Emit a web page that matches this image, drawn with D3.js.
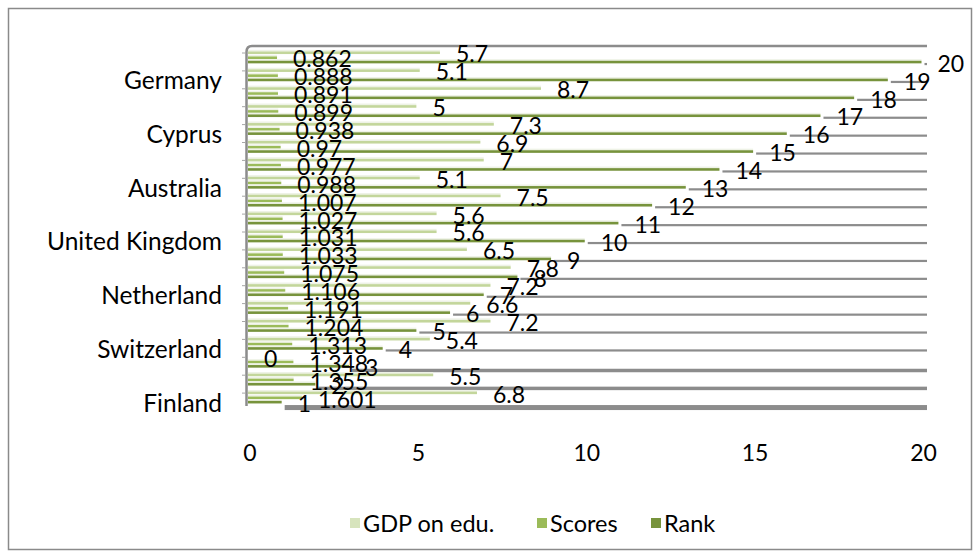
<!DOCTYPE html>
<html>
<head>
<meta charset="utf-8">
<script src="https://cdn.jsdelivr.net/npm/d3@7"></script>
<style>
  body { margin: 0; background: #fff; }
  text { font-family: Lato, "Open Sans", sans-serif; fill: #000; }
</style>
</head>
<body>
<svg id="chart" width="980" height="558"></svg>
<script>
// Ranks, top of the chart first
const ranks = [20, 19, 18, 17, 16, 15, 14, 13, 12, 11, 10, 9, 8, 7, 6, 5, 4, 3, 2, 1];
// Score per rank (same order)
const scores = [0.862, 0.888, 0.891, 0.899, 0.938, 0.97, 0.977, 0.988, 1.007, 1.027,
                1.031, 1.033, 1.075, 1.106, 1.191, 1.204, 1.313, 1.348, 1.355, 1.601];
// Share of GDP spent on education (same order)
const gdpEdu = [5.7, 5.1, 8.7, 5, 7.3, 6.9, 7, 5.1, 7.5, 5.6,
                5.6, 6.5, 7.8, 7.2, 6.6, 7.2, 5.4, 0, 5.5, 6.8];
// Category axis labels that are shown (every third category)
const labelledRanks = [19, 16, 13, 10, 7, 4, 1];
const labelledCountries = ["Germany", "Cyprus", "Australia", "United Kingdom",
                           "Netherland", "Switzerland", "Finland"];
const xTicks = [0, 5, 10, 15, 20];
const seriesNames = ["GDP on edu.", "Scores", "Rank"];
const seriesColors = ["#c3d69b", "#9bbb59", "#77933c"];
const legendSwatch = ["#d7e4bd", "#9bbb59", "#77933c"];

const rows = ranks.map((r, i) => ({ rank: r, score: scores[i], gdp: gdpEdu[i] }));

const svg = d3.select("#chart");
const W = 980, H = 558;
const VALUE_FONT = 23, AXIS_FONT = 24.5, LEGEND_FONT = 23.5;

svg.append("rect").attr("width", W).attr("height", H).attr("fill", "#fff");
// chart frame
svg.append("rect")
  .attr("x", 8.5).attr("y", 8.5).attr("width", 963).attr("height", 541)
  .attr("fill", "none").attr("stroke", "#8a8a8a").attr("stroke-width", 1.5);

const plotLeft = 248, plotRight = 927, plotTop = 46, plotBottom = 410;

const x = d3.scaleLinear().domain([0, 20]).range([plotLeft, 921.5]);
const y = d3.scaleBand().domain(ranks).range([53, 411]).padding(0);
const cy = r => y(r) + y.bandwidth() / 2;

// plot walls
svg.append("path")
  .attr("d", `M${plotLeft - 1.5},${plotBottom - 4} L${plotLeft - 1.5},${plotTop + 6} Q${plotLeft - 1.5},${plotTop} ${plotLeft + 4},${plotTop} L${plotRight},${plotTop}`)
  .attr("fill", "none").attr("stroke", "#8c8c8c").attr("stroke-width", 2.5);

// category ticks on the wall
svg.append("g").selectAll("line")
  .data(ranks)
  .join("line")
  .attr("x1", plotLeft - 6).attr("x2", plotLeft - 2)
  .attr("y1", d => y(d)).attr("y2", d => y(d))
  .attr("stroke", "#a6a6a6").attr("stroke-width", 1);

// gray floor strips behind the rank bars
const trackTop = r => r === 1 ? 3 : (r <= 3 ? 2.5 : 1);
const trackH = r => r === 1 ? 5 : (r <= 3 ? 3.5 : 2.2);
svg.append("g").selectAll("rect")
  .data(rows)
  .join("rect")
  .attr("x", d => x(d.rank) + 3)
  .attr("y", d => cy(d.rank) + trackTop(d.rank))
  .attr("width", d => plotRight - x(d.rank) - 3)
  .attr("height", d => trackH(d.rank))
  .attr("fill", "#8c8c8c");

// bars: offset of each series inside its category band
const seriesKeys = ["gdp", "score", "rank"];
const seriesOffset = [-10.5, -5.5, -1.2];
seriesKeys.forEach((k, s) => {
  const g = svg.append("g");
  // pale top face
  g.selectAll("rect.top")
    .data(rows)
    .join("rect")
    .attr("class", "top")
    .attr("x", x(0))
    .attr("y", d => cy(d.rank) + seriesOffset[s] - 1.6)
    .attr("width", d => Math.max(0, x(d[k]) - x(0)))
    .attr("height", 1.6)
    .attr("fill", "#eef2e6");
  g.selectAll("rect.front")
    .data(rows)
    .join("rect")
    .attr("class", "front")
    .attr("x", x(0))
    .attr("y", d => cy(d.rank) + seriesOffset[s])
    .attr("width", d => Math.max(0, x(d[k]) - x(0)))
    .attr("height", 2.6)
    .attr("fill", seriesColors[s]);
});

// data labels
seriesKeys.forEach((k, s) => {
  svg.append("g").selectAll("text")
    .data(rows)
    .join("text")
    .attr("x", d => x(d[k]) + 16)
    .attr("y", d => cy(d.rank) + seriesOffset[s] + 2)
    .attr("dominant-baseline", "central")
    .attr("font-size", VALUE_FONT)
    .text(d => String(d[k]));
});

// category axis labels
svg.append("g").selectAll("text")
  .data(labelledRanks)
  .join("text")
  .attr("x", 222)
  .attr("y", d => cy(d))
  .attr("text-anchor", "end")
  .attr("dominant-baseline", "central")
  .attr("font-size", AXIS_FONT)
  .text((d, i) => labelledCountries[i]);

// value axis labels
svg.append("g").selectAll("text")
  .data(xTicks)
  .join("text")
  .attr("x", d => x(d) + 2)
  .attr("y", 452)
  .attr("text-anchor", "middle")
  .attr("dominant-baseline", "central")
  .attr("font-size", VALUE_FONT)
  .text(d => d);

// legend
const legendX = [350, 537, 651];
const legend = svg.append("g");
seriesNames.forEach((n, i) => {
  legend.append("rect")
    .attr("x", legendX[i]).attr("y", 518).attr("width", 10).attr("height", 10)
    .attr("fill", legendSwatch[i]);
  legend.append("text")
    .attr("x", legendX[i] + 13).attr("y", 523)
    .attr("dominant-baseline", "central")
    .attr("font-size", LEGEND_FONT)
    .text(n);
});
</script>
</body>
</html>
